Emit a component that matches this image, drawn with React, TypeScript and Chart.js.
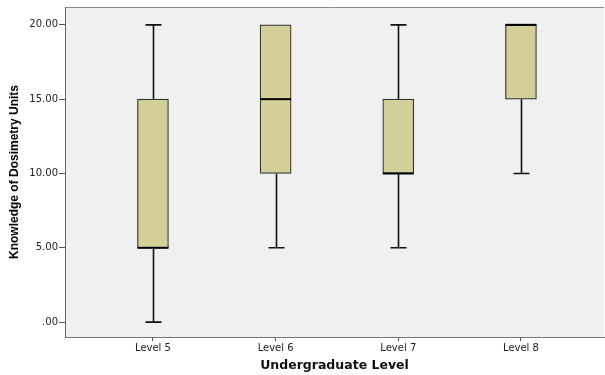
import React, { useEffect, useRef } from 'react';
import { Chart, registerables } from 'chart.js';

Chart.register(...registerables);

const categories = ['Level 5', 'Level 6', 'Level 7', 'Level 8'];
const minValues = [0, 5, 5, 10];
const q1Values = [5, 10, 10, 15];
const medianValues = [5, 15, 10, 20];
const q3Values = [15, 20, 15, 20];
const maxValues = [20, 20, 20, 20];
const yTickValues = [0, 5, 10, 15, 20];
const xTitle = 'Undergraduate Level';
const yTitle = 'Knowledge of Dosimetry Units';

const boxPlugin = {
  id: 'boxExtras',
  beforeDraw(chart: any) {
    const { ctx, chartArea } = chart;
    ctx.save();
    ctx.fillStyle = '#F0F0F0';
    ctx.fillRect(chartArea.left, chartArea.top, chartArea.right - chartArea.left, chartArea.bottom - chartArea.top);
    ctx.strokeStyle = '#8a8a8a';
    ctx.lineWidth = 1;
    ctx.beginPath();
    ctx.moveTo(chartArea.left, chartArea.top + 0.5);
    ctx.lineTo(chartArea.right, chartArea.top + 0.5);
    ctx.stroke();
    ctx.restore();
  },
  beforeDatasetsDraw(chart: any) {
    const { ctx } = chart;
    const xs = chart.scales.x;
    const ys = chart.scales.y;
    ctx.save();
    ctx.strokeStyle = '#111111';
    ctx.lineWidth = 1.6;
    categories.forEach((_, i) => {
      const x = Math.round(xs.getPixelForValue(i + 1)) + 0.5;
      const yMin = ys.getPixelForValue(minValues[i]);
      const yQ1 = ys.getPixelForValue(q1Values[i]);
      const yQ3 = ys.getPixelForValue(q3Values[i]);
      const yMax = ys.getPixelForValue(maxValues[i]);
      const capHalf = 8;
      ctx.beginPath();
      if (minValues[i] < q1Values[i]) {
        ctx.moveTo(x, yMin);
        ctx.lineTo(x, yQ1);
        ctx.moveTo(x - capHalf, yMin);
        ctx.lineTo(x + capHalf, yMin);
      }
      if (maxValues[i] > q3Values[i]) {
        ctx.moveTo(x, yQ3);
        ctx.lineTo(x, yMax);
        ctx.moveTo(x - capHalf, yMax);
        ctx.lineTo(x + capHalf, yMax);
      }
      ctx.stroke();
    });
    ctx.restore();
  },
  afterDatasetsDraw(chart: any) {
    const { ctx } = chart;
    const xs = chart.scales.x;
    const ys = chart.scales.y;
    ctx.save();
    ctx.strokeStyle = '#000000';
    ctx.lineWidth = 2;
    categories.forEach((_, i) => {
      const x = xs.getPixelForValue(i + 1);
      const y = ys.getPixelForValue(medianValues[i]);
      ctx.beginPath();
      ctx.moveTo(x - 15.5, y);
      ctx.lineTo(x + 15.5, y);
      ctx.stroke();
    });
    ctx.restore();
  },
};

export default function App() {
  const ref = useRef<HTMLCanvasElement | null>(null);

  useEffect(() => {
    document.body.style.margin = '0';
    const canvas = ref.current;
    if (!canvas) return;
    const chart = new Chart(canvas, {
      type: 'bar',
      data: {
        datasets: [
          {
            data: categories.map((_, i) => ({ x: i + 1, y: [q1Values[i], q3Values[i]] })) as any,
            backgroundColor: '#D3CF98',
            borderColor: '#333333',
            borderWidth: 1.2,
            borderSkipped: false,
            barThickness: 31,
          },
        ],
      },
      options: {
        responsive: false,
        animation: false,
        layout: { padding: { top: 6, right: 1, left: 0, bottom: 0 } },
        plugins: {
          legend: { display: false },
          tooltip: { enabled: false },
        },
        scales: {
          x: {
            type: 'linear',
            offset: false,
            min: 0.283,
            max: 4.677,
            afterBuildTicks: (scale: any) => {
              scale.ticks = categories.map((_, i) => ({ value: i + 1 }));
            },
            afterFit: (scale: any) => {
              scale.height = 38;
            },
            ticks: {
              callback: (v: any) => categories[Math.round(Number(v)) - 1] ?? '',
              font: { family: 'DejaVu Sans', size: 10 },
              color: '#222222',
              padding: 1,
              autoSkip: false,
              maxRotation: 0,
            },
            grid: {
              display: true,
              offset: false,
              drawOnChartArea: false,
              drawTicks: true,
              tickLength: 4,
              color: '#555555',
            },
            border: { display: true, color: '#777777', width: 1 },
            title: {
              display: true,
              text: xTitle,
              font: { family: 'DejaVu Sans', size: 12.5, weight: 'bold' },
              color: '#111111',
              padding: { top: 2, bottom: 2 },
            },
          },
          y: {
            type: 'linear',
            min: -1.0,
            max: 21.2,
            afterBuildTicks: (scale: any) => {
              scale.ticks = yTickValues.map((v) => ({ value: v }));
            },
            afterFit: (scale: any) => {
              scale.width = 65;
            },
            ticks: {
              callback: (v: any) => (Number(v) === 0 ? '.00' : Number(v).toFixed(2)),
              font: { family: 'DejaVu Sans', size: 10 },
              color: '#222222',
              padding: 1,
            },
            grid: {
              display: true,
              drawOnChartArea: false,
              drawTicks: true,
              tickLength: 6,
              color: '#555555',
            },
            border: { display: true, color: '#666666', width: 1 },
            title: {
              display: true,
              text: yTitle,
              font: { family: "'Liberation Sans'", size: 12, weight: 'bold' },
              color: '#000000',
              padding: { top: 7, bottom: 0 },
            },
          },
        },
      },
      plugins: [boxPlugin],
    });
    return () => chart.destroy();
  }, []);

  return <canvas ref={ref} width={605} height={375} style={{ display: 'block', width: 605, height: 375 }} />;
}
